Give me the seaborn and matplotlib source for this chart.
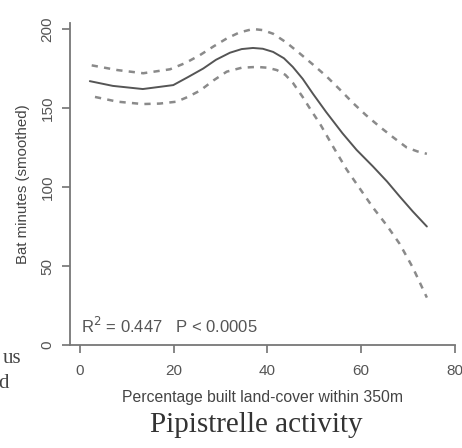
import matplotlib
matplotlib.use("Agg")
import matplotlib.pyplot as plt
import seaborn as sns
import pandas as pd

# Smoothed fit (solid) and confidence bounds (dashed)
fit_x = [2.1, 7, 13.4, 19.9, 23, 26.3, 29, 32, 34.5, 36.9, 39, 41.2, 43.5, 45.4,
         47.5, 49.7, 52.5, 56, 59, 62.5, 65.5, 68.2, 71, 74]
fit_y = [167, 164, 162, 164.5, 169.5, 175, 180.5, 185, 187.3, 188, 187.5, 185.5,
         181.5, 176, 168.5, 159, 147.5, 134, 123.5, 113, 103.5, 94, 84.5, 75]

upper_x = [2.5, 8, 13.5, 19.2, 22.5, 25.6, 28.5, 31.3, 34, 36.9, 39, 41.2, 44,
           46.9, 49.7, 52.6, 55.5, 58.3, 61, 64, 67, 69.7, 72, 74]
upper_y = [177, 174, 172, 174.5, 178.5, 183.5, 189, 194, 197.8, 200, 199.3, 197,
           191.5, 184.5, 177.5, 170, 161.5, 153, 145.5, 138, 131, 125, 122.5, 121]

lower_x = [3.2, 8, 13.4, 17, 20.6, 23, 25.6, 28.5, 31.3, 34.5, 37.7, 40, 42,
           43.8, 45.4, 47.5, 49.3, 51.2, 54, 56.9, 59.7, 62.5, 65.5, 68.2, 71, 74]
lower_y = [157, 154, 152.5, 152.8, 154, 157, 161, 167.5, 173, 175.5, 176, 175.5,
           174, 171, 166, 157, 148.5, 140, 125.5, 111, 99, 87, 75.5, 64, 49, 30]

x_ticks = [0, 20, 40, 60, 80]
y_ticks = [0, 50, 100, 150, 200]

x_label = "Percentage built land-cover within 350m"
y_label = "Bat minutes (smoothed)"
stat_text = "R$^2$ = 0.447   P < 0.0005"
title_text = "Pipistrelle activity"

sns.set_theme(style="ticks")
plt.rcParams['font.family'] = ['Liberation Sans', 'DejaVu Sans']

W, H = 462, 448
fig = plt.figure(figsize=(W / 100, H / 100), dpi=100)
ax = fig.add_axes([70 / W, 103 / H, (455 - 70) / W, (345 - 23) / H])

fit_df = pd.DataFrame({"x": fit_x, "y": fit_y})
up_df = pd.DataFrame({"x": upper_x, "y": upper_y})
lo_df = pd.DataFrame({"x": lower_x, "y": lower_y})

sns.lineplot(data=fit_df, x="x", y="y", ax=ax, color="#555555", linewidth=1.4,
             sort=False, estimator=None)
sns.lineplot(data=up_df, x="x", y="y", ax=ax, color="#8a8a8a", linewidth=1.8,
             sort=False, estimator=None, linestyle=(0, (2.5, 2.5)))
sns.lineplot(data=lo_df, x="x", y="y", ax=ax, color="#8a8a8a", linewidth=1.8,
             sort=False, estimator=None, linestyle=(0, (2.5, 2.5)))

ax.set_xlim(-2.13, 80)
ax.set_ylim(0, 203.8)
ax.set_xticks(x_ticks)
ax.set_yticks(y_ticks)
ax.set_xticklabels([str(t) for t in x_ticks])
ax.set_yticklabels([str(t) for t in y_ticks], rotation=90, va="center")
ax.tick_params(axis="both", direction="out", length=6, width=1.1,
               color="#666666", labelcolor="#555555", labelsize=11)
ax.tick_params(axis="x", pad=8)
ax.tick_params(axis="y", pad=5)

for side in ["top", "right"]:
    ax.spines[side].set_visible(False)
for side in ["left", "bottom"]:
    ax.spines[side].set_color("#777777")
    ax.spines[side].set_linewidth(1.3)

ax.set_xlabel(x_label, fontsize=11.3, color="#444444", labelpad=8)
ax.set_ylabel(y_label, fontsize=10.8, color="#444444", labelpad=8)

ax.text(0.3, 12, stat_text, fontsize=12, color="#555555", ha="left", va="center")

fig.text(256 / W, 1 - 425 / H, title_text, family=["Liberation Serif"],
         fontsize=21, color="#333333", ha="center", va="center")
fig.text(21 / W, 1 - 358 / H, "us", family=["Liberation Serif"],
         fontsize=15, color="#444444", ha="right", va="center")
fig.text(9 / W, 1 - 383 / H, "d", family=["Liberation Serif"],
         fontsize=15, color="#444444", ha="right", va="center")

fig.savefig("out.png", dpi=100, facecolor="white")
